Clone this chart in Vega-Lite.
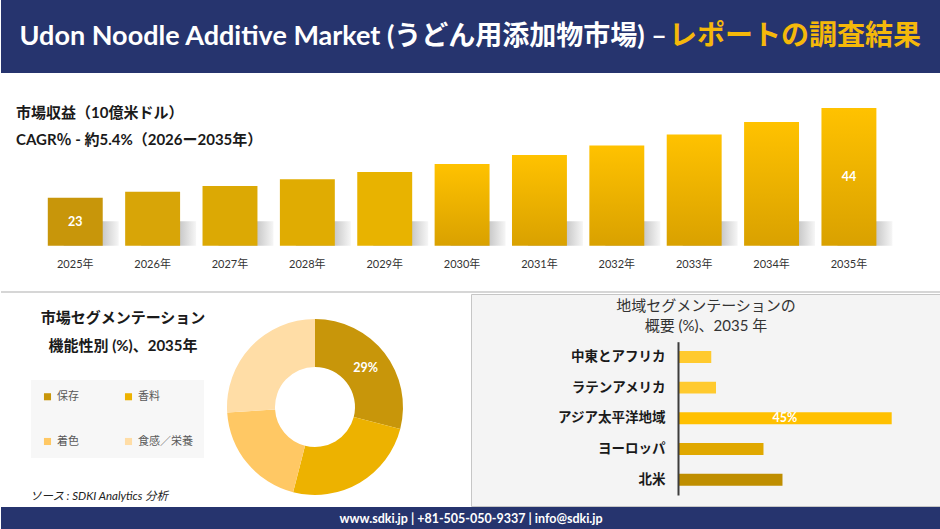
{
  "$schema": "https://vega.github.io/schema/vega-lite/v6.json",
  "padding": 0,
  "autosize": {"type": "pad"},
  "background": "#ffffff",
  "spacing": 0,
  "resolve": {"scale": {"color": "independent"}, "legend": {"color": "independent"}},
  "config": {
    "view": {"stroke": null},
    "font": "Lato, Noto Sans CJK JP"
  },
  "vconcat": [
    {
      "width": 940,
      "height": 73,
      "view": {"fill": "#26346E", "stroke": null},
      "data": {"values": [{"a": "Udon Noodle Additive Market (うどん用添加物市場) –", "b": "レポートの調査結果"}]},
      "layer": [
        {"mark": {"type": "text", "align": "right", "dx": 196, "fontSize": 27, "fontWeight": "bold", "color": "#ffffff"}, "encoding": {"text": {"field": "a"}}},
        {"mark": {"type": "text", "align": "left", "dx": 198, "fontSize": 28, "fontWeight": "bold", "color": "#F5B80A"}, "encoding": {"text": {"field": "b"}}}
      ]
    },
    {
      "width": 940,
      "height": 220,
      "title": {
        "text": "市場収益（10億米ドル）",
        "subtitle": "CAGR％ - 約5.4%（2026ー2035年）",
        "anchor": "start",
        "frame": "group",
        "orient": "top",
        "offset": -75,
        "dx": 15,
        "fontSize": 15,
        "fontWeight": "bold",
        "color": "#1a1a1a",
        "subtitleFontSize": 15,
        "subtitleFontWeight": "bold",
        "subtitleColor": "#1a1a1a",
        "subtitlePadding": 12
      },
      "data": {"values": [
        {"year": "2025年", "value": 23},
        {"year": "2026年", "value": 24.4},
        {"year": "2027年", "value": 25.7},
        {"year": "2028年", "value": 27.3},
        {"year": "2029年", "value": 29.0},
        {"year": "2030年", "value": 30.9},
        {"year": "2031年", "value": 33.0},
        {"year": "2032年", "value": 35.2},
        {"year": "2033年", "value": 37.8},
        {"year": "2034年", "value": 40.7},
        {"year": "2035年", "value": 44}
      ]},
      "layer": [
        {
          "mark": {"type": "bar", "xOffset": 16, "color": {"gradient": "linear", "x1": 0, "y1": 0, "x2": 1, "y2": 0, "stops": [{"offset": 0, "color": "#bcbcbc"}, {"offset": 0.7, "color": "#c8c8c8"}, {"offset": 1, "color": "#f6f6f6"}]}},
          "encoding": {
            "x": {"field": "year", "type": "nominal", "sort": null, "scale": {"type": "band", "paddingInner": 0.29, "paddingOuter": 0.72, "align": 0.42},
              "axis": {"title": null, "domain": false, "ticks": false, "labelAngle": 0, "labelFontSize": 11, "labelColor": "#333333", "labelPadding": 0, "offset": -29, "labelBaseline": "middle"}},
            "y": {"datum": 17.5, "type": "quantitative", "scale": {"domain": [0.67, 52.19], "nice": false, "zero": false}, "axis": null},
            "y2": {"datum": 11.75}
          }
        },
        {
          "transform": [{"filter": {"field": "year", "oneOf": ["2025年", "2026年", "2027年", "2028年", "2029年"]}}],
          "mark": {"type": "bar"},
          "encoding": {
            "x": {"field": "year", "type": "nominal", "sort": null, "scale": {"type": "band", "paddingInner": 0.29, "paddingOuter": 0.72, "align": 0.42},
              "axis": {"title": null, "domain": false, "ticks": false, "labelAngle": 0, "labelFontSize": 11, "labelColor": "#333333", "labelPadding": 0, "offset": -29, "labelBaseline": "middle"}},
            "y": {"field": "value", "type": "quantitative", "scale": {"domain": [0.67, 52.19], "nice": false, "zero": false}, "axis": null},
            "y2": {"datum": 11.75},
            "color": {"field": "year", "type": "nominal", "scale": {"domain": ["2025年", "2026年", "2027年", "2028年", "2029年"], "range": ["#C8960A", "#D8A507", "#DCA904", "#E0AC02", "#E8B300"]}, "legend": null}
          }
        },
        {
          "transform": [{"filter": {"field": "year", "oneOf": ["2030年", "2031年", "2032年", "2033年", "2034年", "2035年"]}}],
          "mark": {"type": "bar", "color": {"gradient": "linear", "x1": 0, "y1": 0, "x2": 0, "y2": 1, "stops": [{"offset": 0, "color": "#FFC200"}, {"offset": 1, "color": "#D9A100"}]}},
          "encoding": {
            "x": {"field": "year", "type": "nominal", "sort": null, "scale": {"type": "band", "paddingInner": 0.29, "paddingOuter": 0.72, "align": 0.42},
              "axis": {"title": null, "domain": false, "ticks": false, "labelAngle": 0, "labelFontSize": 11, "labelColor": "#333333", "labelPadding": 0, "offset": -29, "labelBaseline": "middle"}},
            "y": {"field": "value", "type": "quantitative", "scale": {"domain": [0.67, 52.19], "nice": false, "zero": false}, "axis": null},
            "y2": {"datum": 11.75}
          }
        },
        {
          "transform": [{"filter": {"field": "year", "oneOf": ["2025年", "2035年"]}}],
          "mark": {"type": "text", "fontSize": 12.5, "fontWeight": "bold", "color": "#ffffff"},
          "encoding": {
            "x": {"field": "year", "type": "nominal", "sort": null, "scale": {"type": "band", "paddingInner": 0.29, "paddingOuter": 0.72, "align": 0.42},
              "axis": {"title": null, "domain": false, "ticks": false, "labelAngle": 0, "labelFontSize": 11, "labelColor": "#333333", "labelPadding": 0, "offset": -29, "labelBaseline": "middle"}},
            "y": {"field": "value", "type": "quantitative", "scale": {"domain": [-10.41, 92.63], "nice": false, "zero": false}, "axis": null},
            "text": {"field": "value", "type": "quantitative", "format": ".0f"}
          }
        },
        {
          "data": {"values": [{}]},
          "mark": {"type": "rule", "strokeWidth": 2, "color": "#d6d6d6", "yOffset": -1},
          "encoding": {
            "y": {"datum": 0.67, "type": "quantitative", "scale": {"domain": [0.67, 52.19], "nice": false, "zero": false}, "axis": null}
          }
        }
      ],
      "resolve": {"scale": {"y": "independent"}}
    },
    {
      "spacing": 0,
      "bounds": "flush",
      "resolve": {"scale": {"color": "independent"}, "legend": {"color": "independent"}},
      "hconcat": [
        {
          "width": 158,
          "height": 212,
          "title": {
            "text": ["市場セグメンテーション", "機能性別 (%)、2035年"],
            "anchor": "middle",
            "frame": "group",
            "orient": "top",
            "offset": -60,
            "dx": 43,
            "fontSize": 15,
            "fontWeight": "bold",
            "color": "#1a1a1a",
            "lineHeight": 28
          },
          "data": {"values": [{"src": "ソース : SDKI Analytics 分析"}]},
          "mark": {"type": "text", "align": "left", "dx": -50, "dy": 97, "fontSize": 11.5, "fontStyle": "italic", "color": "#222222"},
          "encoding": {"text": {"field": "src"}}
        },
        {
          "width": 312,
          "height": 212,
          "data": {"values": [
            {"segment": "保存", "share": 0.29, "k": 1},
            {"segment": "香料", "share": 0.25, "k": 2},
            {"segment": "着色", "share": 0.20, "k": 3},
            {"segment": "食感／栄養", "share": 0.26, "k": 4}
          ]},
          "encoding": {
            "theta": {"field": "share", "type": "quantitative", "stack": true},
            "order": {"field": "k", "type": "quantitative"},
            "color": {
              "field": "segment", "type": "nominal",
              "scale": {"domain": ["保存", "香料", "着色", "食感／栄養"], "range": ["#C8960A", "#EDB200", "#FFC864", "#FFDDA6"]},
              "legend": {"orient": "none", "direction": "horizontal", "legendX": -128, "legendY": 86, "columns": 2, "title": null, "symbolType": "square", "symbolSize": 50, "labelFontSize": 11, "labelColor": "#595959", "rowPadding": 33, "columnPadding": 44, "padding": 11, "fillColor": "#f7f7f7", "labelOffset": 4}
            }
          },
          "layer": [
            {"mark": {"type": "arc", "outerRadius": 88, "innerRadius": 40, "yOffset": 7}},
            {
              "mark": {"type": "text", "radius": 64, "yOffset": 7, "fontSize": 12.5, "fontWeight": "bold"},
              "encoding": {
                "color": {"value": "#ffffff"},
                "text": {"condition": {"test": "datum.segment === '保存'", "field": "share", "type": "quantitative", "format": ".0%"}, "value": ""}
              }
            }
          ]
        },
        {
          "width": 470,
          "height": 212,
          "view": {"fill": "#f4f4f4", "stroke": "#c6c6c6", "strokeWidth": 1},
          "title": {
            "text": ["地域セグメンテーションの", "概要 (%)、2035 年"],
            "anchor": "middle",
            "frame": "group",
            "orient": "top",
            "offset": -40,
            "fontSize": 15,
            "fontWeight": "normal",
            "color": "#333333",
            "lineHeight": 20
          },
          "data": {"values": [
            {"region": "中東とアフリカ", "share": 0.07},
            {"region": "ラテンアメリカ", "share": 0.08},
            {"region": "アジア太平洋地域", "share": 0.45},
            {"region": "ヨーロッパ", "share": 0.18},
            {"region": "北米", "share": 0.22}
          ]},
          "encoding": {
            "y": {
              "field": "region", "type": "nominal", "sort": null,
              "scale": {"type": "band", "range": [47.7, 201], "paddingInner": 0.61, "paddingOuter": 0.30, "align": 0.5},
              "axis": {"title": null, "domain": true, "domainColor": "#3c3c3c", "domainWidth": 2, "domainOpacity": 1, "zindex": 2, "ticks": false, "labelFontSize": 13.5, "labelFontWeight": "bold", "labelColor": "#1a1a1a", "labelPadding": 13, "offset": -207}
            }
          },
          "layer": [
            {
              "mark": {"type": "bar"},
              "encoding": {
                "x": {"field": "share", "type": "quantitative", "scale": {"domain": [-0.4359, 0.5538], "nice": false, "zero": false}, "axis": null},
                "x2": {"datum": 0},
                "color": {"field": "region", "type": "nominal", "scale": {"domain": ["中東とアフリカ", "ラテンアメリカ", "アジア太平洋地域", "ヨーロッパ", "北米"], "range": ["#FFCA2E", "#FFCA2E", "#FFC000", "#E0A800", "#BF8E00"]}, "legend": null}
              }
            },
            {
              "transform": [{"filter": "datum.share > 0.3"}],
              "mark": {"type": "text", "fontSize": 12.5, "fontWeight": "bold", "color": "#ffffff"},
              "encoding": {
                "x": {"field": "share", "type": "quantitative", "scale": {"domain": [-0.8718, 1.1076], "nice": false, "zero": false}, "axis": null},
                "text": {"field": "share", "type": "quantitative", "format": ".0%"}
              }
            }
          ],
          "resolve": {"scale": {"x": "independent"}}
        }
      ]
    },
    {
      "width": 940,
      "height": 24,
      "view": {"fill": "#26346E", "stroke": null},
      "data": {"values": [{"t": "www.sdki.jp | +81-505-050-9337 | info@sdki.jp"}]},
      "mark": {"type": "text", "fontSize": 12.5, "fontWeight": "bold", "color": "#ffffff"},
      "encoding": {"text": {"field": "t"}}
    }
  ]
}
